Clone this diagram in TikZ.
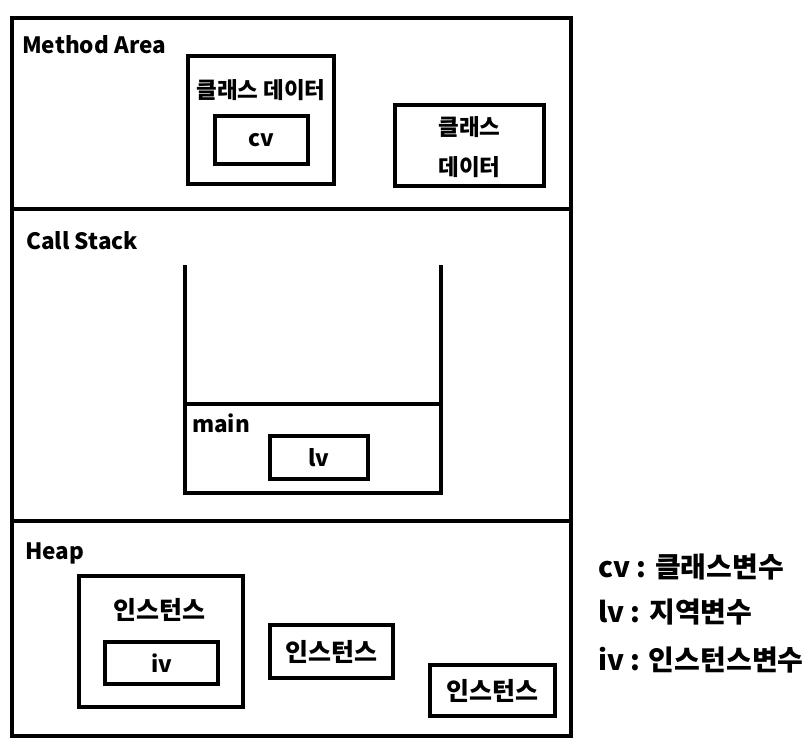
\documentclass[tikz,border=0pt]{standalone}
\usepackage{fontspec}
\setmainfont{Noto Sans CJK KR}
\usepackage{tikz}
\usetikzlibrary{positioning}

\tikzset{
  membox/.style={draw, line width=4pt, inner sep=0pt},
  lbl/.style={font=\fontsize{22.5}{26}\selectfont\bfseries, inner sep=0pt},
  instlbl/.style={font=\fontsize{25}{28}\selectfont\bfseries, inner sep=0pt},
  legend/.style={font=\fontsize{28}{32}\selectfont\bfseries, anchor=west, inner sep=0pt}
}

\begin{document}
\begin{tikzpicture}[x=1pt, y=-1pt]
  \useasboundingbox (0,0) rectangle (812,750);
  % memory frame
  \draw[line width=4pt] (12,18) rectangle (571,736);
  \draw[line width=4pt] (12,209) -- (571,209);
  \draw[line width=4pt] (12,521) -- (571,521);
  % method area
  \node[lbl, anchor=west] (mtitle) at (22,45) {Method Area};
  \node[membox, minimum width=146pt, minimum height=128pt] (clsa) at (261,120) {};
  \node[lbl] (clsatxt) at (261,90) {클래스 데이터};
  \node[membox, minimum width=93pt, minimum height=48pt, lbl] (cv) at (261.5,140) {cv};
  \node[membox, minimum width=149pt, minimum height=81pt] (clsb) at (469.5,145.5) {};
  \node[lbl] (clsbtop) at (469.5,127) {클래스};
  \node[lbl] (clsbbot) at (469.5,167) {데이터};
  % call stack
  \node[lbl, anchor=west] (stitle) at (26,241) {Call Stack};
  \draw[line width=4pt] (185,265) -- (185,493) -- (441,493) -- (441,265);
  \draw[line width=4pt] (185,403.5) -- (441,403.5);
  \node[lbl, anchor=west] (mainlbl) at (192,423) {main};
  \node[membox, minimum width=98pt, minimum height=43pt, lbl] (lv) at (319,457.5) {lv};
  % heap
  \node[lbl, anchor=west] (htitle) at (25,553) {Heap};
  \node[membox, minimum width=164pt, minimum height=131pt] (insta) at (161,641.5) {};
  \node[instlbl] (instatxt) at (159,610) {인스턴스};
  \node[membox, minimum width=113pt, minimum height=42pt, lbl] (iv) at (161.5,663) {iv};
  \node[membox, minimum width=123pt, minimum height=53pt, instlbl] (instb) at (331.5,651.5) {인스턴스};
  \node[membox, minimum width=125pt, minimum height=51pt, instlbl] (instc) at (492.5,690.5) {인스턴스};
  % legend
  \node[legend] (lgcv) at (598,567) {cv : 클래스변수};
  \node[legend] (lglv) at (598,612) {lv : 지역변수};
  \node[legend] (lgiv) at (598,660) {iv : 인스턴스변수};
\end{tikzpicture}
\end{document}
